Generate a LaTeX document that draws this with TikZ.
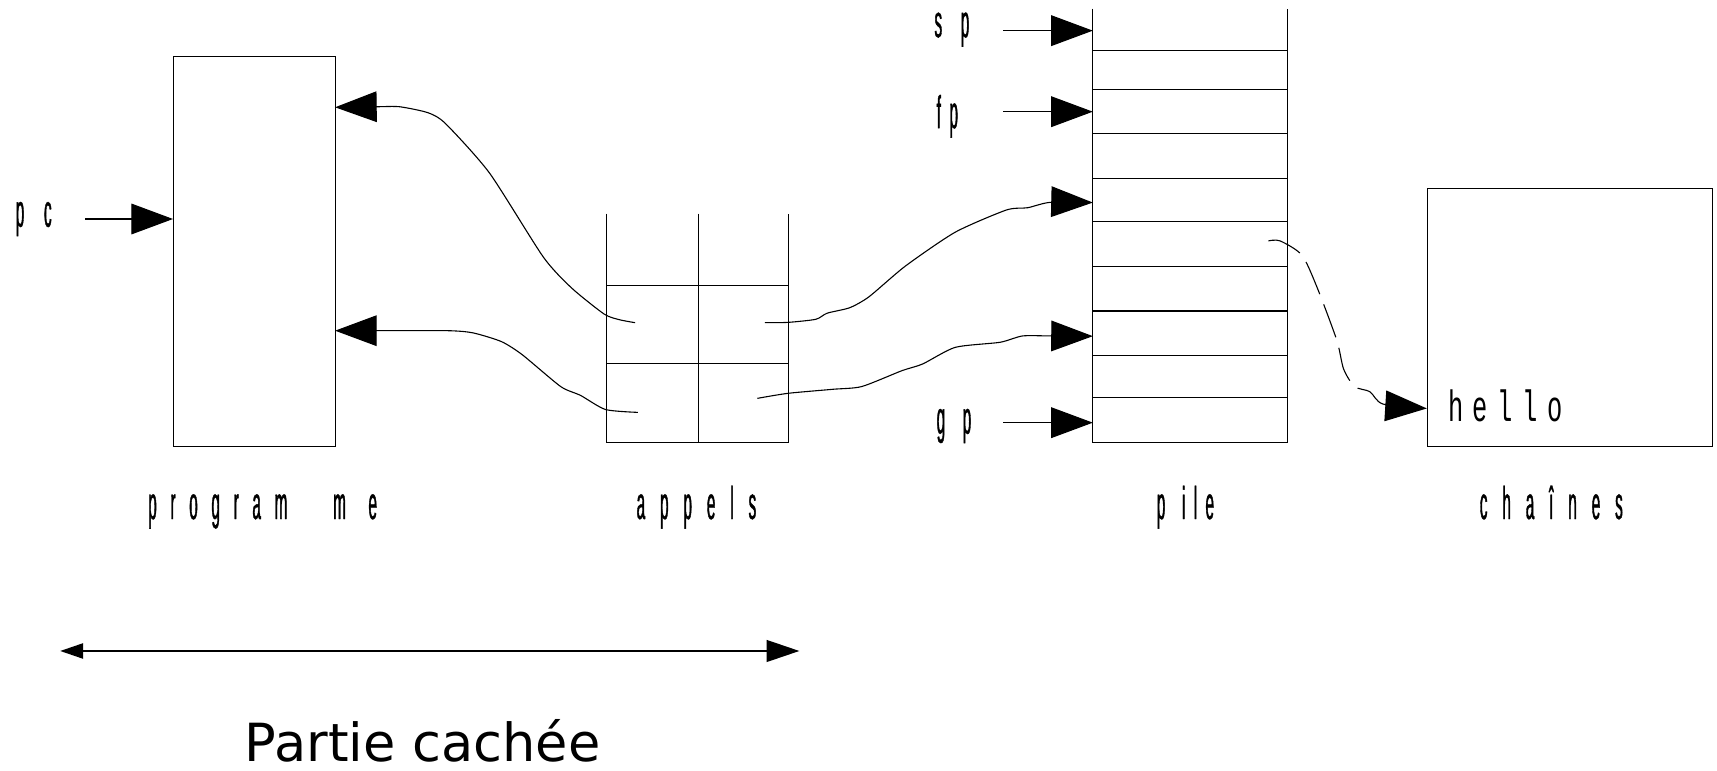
\documentclass[tikz,border=0pt]{standalone}
\usepackage{fontspec}
\usetikzlibrary{arrows.meta}
\newfontfamily\lblfont[FakeStretch=0.333,FakeBold=0.8]{Liberation Sans}
\newfontfamily\hellofont[FakeStretch=0.58]{Liberation Mono}
\newfontfamily\capfont{DejaVu Sans}
% letter-spaced text: \trk{gap}{letters}
\newdimen\trkamt
\def\trk#1#2{\trkamt=#1\relax\trkloop#2\relax}
\def\trkloop#1{\ifx\relax#1\unskip\else#1\hskip\trkamt\relax\expandafter\trkloop\fi}
\tikzset{
  box/.style={draw, line width=0.5pt, inner sep=0pt, anchor=north west},
  cell/.style={line width=0.5pt},
  lbl/.style={font=\lblfont\fontsize{21pt}{24pt}\selectfont, inner sep=0pt, anchor=base west},
  big/.style={-{Triangle[length=19pt,width=14pt]}, line width=0.5pt},
}
\begin{document}
\begin{tikzpicture}[x=0.5pt,y=-0.5pt]
\useasboundingbox (0,0) rectangle (1568,704);

% program memory and string area
\node[box, minimum width=74pt, minimum height=178pt] (prog) at (158,51) {};
\node[box, minimum width=130pt, minimum height=117.5pt] (str) at (1303,172) {};

% call stack grid (open at the top)
\draw[cell] (554,195) -- (554,404) -- (720,404) -- (720,195);
\draw[cell] (638,195) -- (638,404);
\draw[cell] (554,261) -- (720,261) (554,332) -- (720,332);

% data stack (open at the top)
\draw[cell] (998,8) -- (998,404) -- (1176,404) -- (1176,8);
\foreach \y in {46,82,122,163,202,243,284,325,363}
  \draw[cell] (998,\y) -- (1176,\y);

% connector ends
\coordinate (progHi) at (306,98);
\coordinate (progLo) at (306,302);
\coordinate (callA) at (580,294.7);
\coordinate (callB) at (582.6,376.6);
\coordinate (callC) at (698.6,294.7);
\coordinate (callD) at (691.6,363.8);
\coordinate (pileSP) at (998,28);
\coordinate (pileFP) at (998,102);
\coordinate (pileC1) at (998,185);
\coordinate (pileC2) at (998,307);
\coordinate (pileGP) at (998,386);
\coordinate (pileS) at (1158.3,220);
\coordinate (strIn) at (1303,373);

% register names
\node[lbl] (pc) at (14,207) {\trk{9pt}{pc}};
\node[lbl] (sp) at (853,34) {\trk{8.5pt}{sp}};
\node[lbl] (fp) at (855,117) {\trk{3.9pt}{fp}};
\node[lbl] (gp) at (855,396) {\trk{8pt}{gp}};
\coordinate (pcT) at (78,200);
\coordinate (spT) at (916,28);
\coordinate (fpT) at (916,102);
\coordinate (gpT) at (916,386);
\draw[big] (pcT) -- (pcT -| prog.west);
\draw[big] (spT) -- (pileSP);
\draw[big] (fpT) -- (pileFP);
\draw[big] (gpT) -- (pileGP);

% return addresses into the program
\draw[big] plot[smooth, tension=0.4] coordinates {(callA) (565.8,292) (551.7,286.8)
  (522,263) (496,234.5) (447,158) (407,113) (391,103) (365,97.5) (344,97.5) (progHi)};
\draw[big] plot[smooth, tension=0.4] coordinates {(callB) (553,374) (530,361) (512,353)
  (477,324) (458,312) (432,304) (409,302) (344,302) (progLo)};

% saved frame pointers into the stack
\draw[big] plot[smooth, tension=0.4] coordinates {(callC) (719.7,294.4) (745,291.6)
  (755.4,286) (776,281) (793.6,271) (826.8,243) (872.4,212) (919,191.8) (938.5,189.7)
  (959,184.8) (pileC1)};
\draw[big] plot[smooth, tension=0.4] coordinates {(callD) (719.6,359.2) (760.7,355.5)
  (787,353) (823.7,338.5) (842.6,332.4) (872.4,317.2) (913.2,312.6) (933.8,306.8)
  (959,306.8) (pileC2)};

% stack slot pointing to a string
\draw[big, dash pattern=on 16pt off 5pt] plot[smooth, tension=0.45] coordinates {(pileS)
  (1169,220) (1188.8,232.9) (1202.5,261.8) (1220.7,310.5) (1227,337) (1237,353)
  (1251,357.7) (1263,369) (strIn)};

\node[anchor=base west, inner sep=0pt, font=\hellofont\fontsize{20pt}{24pt}\selectfont]
  (hello) at (1322,384.5) {\trk{4.4pt}{hello}};

% area captions
\node[lbl] (lprog) at (135,474) {\trk{6.25pt}{program}\hskip 20.9pt m\hskip 10.3pt e};
\node[lbl] (lcall) at (581,474) {\trk{6.8pt}{appels}};
\node[lbl] (lpile) at (1056,474) {p\hskip 7.6pt i\hskip 3.85pt l\hskip 3.8pt e};
\node[lbl] (lstr) at (1351,474) {\trk{6.8pt}{chaînes}};

% extent of the hidden part
\coordinate (hl) at (55,594.5);
\coordinate (hr) at (730,594.5);
\draw[{Triangle[length=10.5pt,width=7pt]}-{Triangle[length=15pt,width=10pt]}, line width=0.7pt] (hl) -- (hr);
\node[font=\capfont\fontsize{24pt}{28pt}\selectfont, anchor=base, inner sep=0pt, text depth=0pt]
  (hidden) at (386,695.5) {Partie cachée};
\end{tikzpicture}
\end{document}
